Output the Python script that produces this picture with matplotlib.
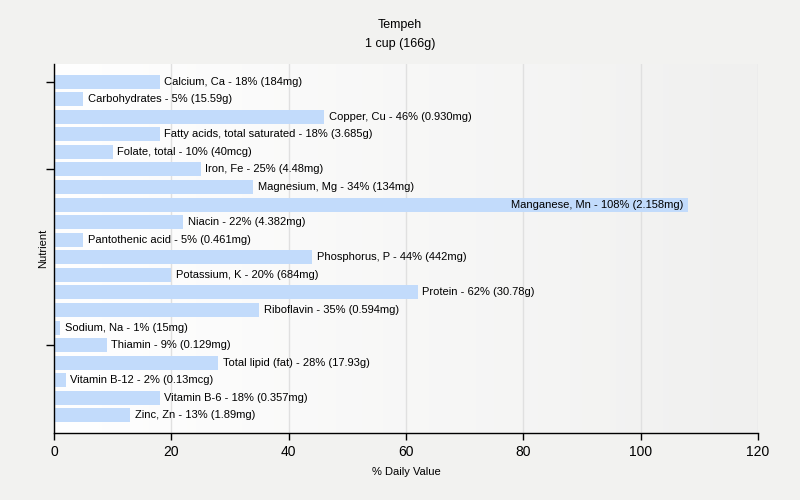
import numpy as np
import matplotlib
matplotlib.use('Agg')
from matplotlib import pyplot as plt

plt.rcParams['font.family'] = ['Liberation Sans', 'DejaVu Sans']

# dados do gráfico
nutrientes = ['Calcium, Ca', 'Carbohydrates', 'Copper, Cu', 'Fatty acids, total saturated',
              'Folate, total', 'Iron, Fe', 'Magnesium, Mg', 'Manganese, Mn', 'Niacin',
              'Pantothenic acid', 'Phosphorus, P', 'Potassium, K', 'Protein', 'Riboflavin',
              'Sodium, Na', 'Thiamin', 'Total lipid (fat)', 'Vitamin B-12', 'Vitamin B-6',
              'Zinc, Zn']
valores = [18, 5, 46, 18, 10, 25, 34, 108, 22, 5, 44, 20, 62, 35, 1, 9, 28, 2, 18, 13]
quantidades = ['184mg', '15.59g', '0.930mg', '3.685g', '40mcg', '4.48mg', '134mg', '2.158mg',
               '4.382mg', '0.461mg', '442mg', '684mg', '30.78g', '0.594mg', '15mg', '0.129mg',
               '17.93g', '0.13mcg', '0.357mg', '1.89mg']
ticks_x = [0, 20, 40, 60, 80, 100, 120]

fig = plt.figure(figsize=(8, 5), dpi=100, facecolor='#f2f2f0')
ax = fig.add_axes([0.0675, 0.134, 0.88, 0.738])

# fundo em degradê
grad = np.linspace(0, 1, 256).reshape(1, -1)
ax.imshow(grad, extent=[0, 1, 0, 1], transform=ax.transAxes, aspect='auto',
          cmap=matplotlib.colors.LinearSegmentedColormap.from_list('g', ['#ffffff', '#f0f0ef']),
          zorder=0)

pos = np.arange(len(nutrientes))
ax.barh(pos, valores, height=0.8, color='#c2dbfb', zorder=2)

for p, v, n, q in zip(pos, valores, nutrientes, quantidades):
    txt = '%s - %d%% (%s)' % (n, v, q)
    if v > 100:
        ax.text(v - 0.8, p, txt, va='center', ha='right', fontsize=8, zorder=3)
    else:
        ax.text(v + 0.8, p, txt, va='center', ha='left', fontsize=8, zorder=3)

ax.set_xlim(0, 120)
ax.set_ylim(20, -1)
ax.set_xticks(ticks_x)
ax.set_xticklabels([str(t) for t in ticks_x], fontsize=10)
ax.set_yticks([0, 5, 15])
ax.set_yticklabels([])
ax.tick_params(axis='y', length=6, width=1)
ax.tick_params(axis='x', length=5, width=1)
ax.grid(axis='x', color='#e0e0e0', linewidth=1, zorder=1)
ax.set_axisbelow(True)

for s in ['top', 'right']:
    ax.spines[s].set_visible(False)
ax.spines['left'].set_linewidth(1)
ax.spines['bottom'].set_linewidth(1)

ax.set_xlabel('% Daily Value', fontsize=8, labelpad=6)
ax.set_ylabel('Nutrient', fontsize=8)
ax.yaxis.set_label_coords(-0.009, 0.5)
fig.text(0.5, 0.962, 'Tempeh\n1 cup (166g)', ha='center', va='top', fontsize=9, linespacing=1.75)

plt.savefig('out.png', dpi=100, facecolor=fig.get_facecolor())
